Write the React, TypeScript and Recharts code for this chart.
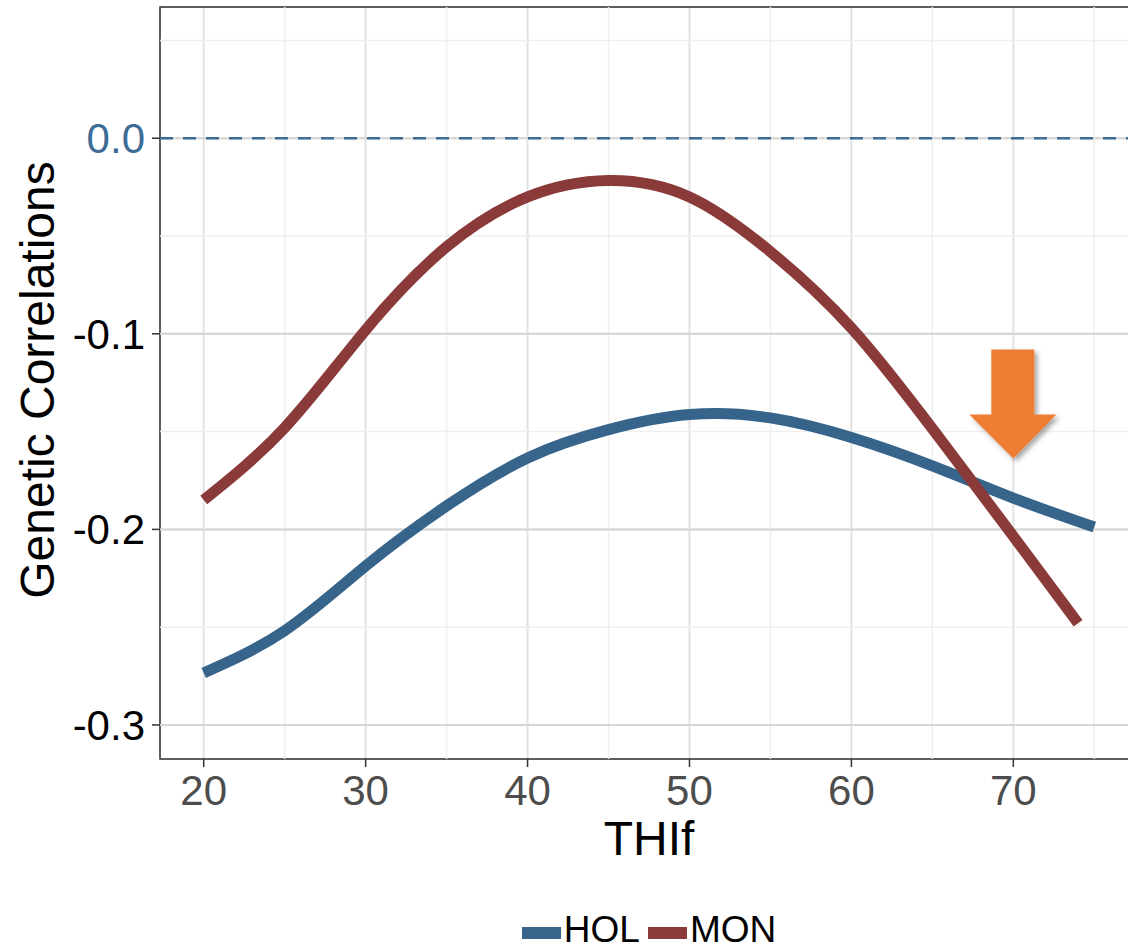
import React from 'react';
import {
  LineChart,
  Line,
  XAxis,
  YAxis,
  CartesianGrid,
  ReferenceLine,
  ReferenceArea,
  ReferenceDot,
  Legend,
  Label,
} from 'recharts';

// values
const holX = [20, 25, 30, 35, 40, 45, 50, 55, 60, 65, 70, 75];
const holY = [-0.2734, -0.2518, -0.2187, -0.188, -0.1635, -0.149, -0.1413, -0.143, -0.153, -0.1675, -0.184, -0.1988];

const monX = [20, 25, 30, 35, 40, 45, 50, 55, 60, 65, 70, 74];
const monY = [-0.185, -0.148, -0.098, -0.0555, -0.030, -0.0216, -0.030, -0.058, -0.097, -0.1485, -0.2035, -0.248];

const xTicks = [20, 30, 40, 50, 60, 70];
const yTicks = [0, -0.1, -0.2, -0.3];
const xMinor = [25, 35, 45, 55, 65, 75];
const yMinor = [0.05, -0.05, -0.15, -0.25];

const xDomain: [number, number] = [17.3, 77.7];
const yDomain: [number, number] = [-0.3174, 0.0671];

const arrowAt = { x: 70, y: -0.108 };

const HOL_COLOR = '#36648B';
const MON_COLOR = '#8B3A3A';
const ZERO_COLOR = '#3d6d96';

const holData = holX.map((x, i) => ({ x, HOL: holY[i] }));
const monData = monX.map((x, i) => ({ x, MON: monY[i] }));

const XTick = (props: any) => {
  const { x, y, payload } = props;
  return (
    <text x={x} y={y} dy="0.71em" textAnchor="middle" fontSize={42} fill="#4d4d4d">
      {payload.value}
    </text>
  );
};

const YTick = (props: any) => {
  const { x, y, payload } = props;
  const v = payload.value as number;
  return (
    <text
      x={x}
      y={y}
      dy="0.355em"
      textAnchor="end"
      fontSize={42}
      fill={v === 0 ? ZERO_COLOR : '#000'}
    >
      {v.toFixed(1)}
    </text>
  );
};

const Arrow = (props: any) => {
  const { cx, cy } = props;
  if (cx == null || cy == null) return null;
  const pts = [
    [cx - 22, cy],
    [cx + 21, cy],
    [cx + 21, cy + 65],
    [cx + 43, cy + 65],
    [cx, cy + 109],
    [cx - 44, cy + 65],
    [cx - 22, cy + 65],
  ]
    .map((p) => p.join(','))
    .join(' ');
  return (
    <g>
      <defs>
        <filter id="arrowShadow" x="-30%" y="-30%" width="160%" height="160%">
          <feDropShadow dx="3" dy="3" stdDeviation="2.5" floodColor="#000" floodOpacity="0.35" />
        </filter>
      </defs>
      <polygon points={pts} fill="#ED7D31" filter="url(#arrowShadow)" />
    </g>
  );
};

const LegendContent = () => (
  <div
    style={{
      height: 40,
      display: 'flex',
      justifyContent: 'center',
      alignItems: 'flex-start',
      paddingTop: 2,
      boxSizing: 'border-box',
      fontSize: 37,
      lineHeight: '37px',
      color: '#000',
    }}
  >
    {[
      { name: 'HOL', color: HOL_COLOR },
      { name: 'MON', color: MON_COLOR },
    ].map((it, i) => (
      <div key={it.name} style={{ display: 'flex', alignItems: 'flex-start', marginLeft: i ? 8 : 0 }}>
        <div style={{ width: 39, height: 12, marginTop: 16, background: it.color }} />
        <span style={{ marginLeft: 3 }}>{it.name}</span>
      </div>
    ))}
  </div>
);

export default function App() {
  return (
    <div
      style={{
        position: 'absolute',
        left: 0,
        top: 0,
        width: 1128,
        height: 949,
        overflow: 'hidden',
        background: '#fff',
        fontFamily: '"Liberation Sans", Arial, sans-serif',
      }}
    >
      <LineChart width={1150} height={949} margin={{ top: 7, right: 12, left: 0, bottom: 0 }}>
        <CartesianGrid stroke="#e2e2e2" strokeWidth={2} />
        {xMinor.map((v) => (
          <ReferenceLine key={'mx' + v} x={v} stroke="#efefef" strokeWidth={1.5} />
        ))}
        {yMinor.map((v) => (
          <ReferenceLine key={'my' + v} y={v} stroke="#efefef" strokeWidth={1.5} />
        ))}
        {yTicks.map((v) => (
          <ReferenceLine key={'gy' + v} y={v} stroke="#d6d6d6" strokeWidth={2} />
        ))}
        <XAxis
          type="number"
          dataKey="x"
          domain={xDomain}
          allowDataOverflow
          ticks={xTicks}
          height={150}
          axisLine={false}
          tickLine={{ stroke: '#333', strokeWidth: 1.5 }}
          tickSize={8}
          tickMargin={8}
          tick={<XTick />}
        >
          <Label
            content={(p: any) => {
              const vb = p.viewBox;
              return (
                <text x={vb.x + vb.width / 2} y={855} textAnchor="middle" fontSize={48} fill="#000">
                  THIf
                </text>
              );
            }}
          />
        </XAxis>
        <YAxis
          type="number"
          domain={yDomain}
          allowDataOverflow
          ticks={yTicks}
          width={160}
          axisLine={false}
          tickLine={{ stroke: '#333', strokeWidth: 1.5 }}
          tickSize={8}
          tickMargin={7}
          tick={<YTick />}
        >
          <Label
            content={(p: any) => {
              const vb = p.viewBox;
              const cy = vb.y + vb.height / 2;
              return (
                <text
                  transform={`translate(54, ${cy - 3}) rotate(-90)`}
                  textAnchor="middle"
                  fontSize={48}
                  fill="#000"
                >
                  Genetic Correlations
                </text>
              );
            }}
          />
        </YAxis>
        <ReferenceLine y={0} stroke={ZERO_COLOR} strokeWidth={2.5} strokeDasharray="13 10" />
        <Line
          data={holData}
          dataKey="HOL"
          name="HOL"
          type="natural"
          stroke={HOL_COLOR}
          strokeWidth={11}
          dot={false}
          activeDot={false}
          isAnimationActive={false}
        />
        <Line
          data={monData}
          dataKey="MON"
          name="MON"
          type="natural"
          stroke={MON_COLOR}
          strokeWidth={11}
          dot={false}
          activeDot={false}
          isAnimationActive={false}
        />
        <ReferenceDot x={arrowAt.x} y={arrowAt.y} r={0} shape={<Arrow />} />
        <ReferenceArea
          x1={xDomain[0]}
          x2={xDomain[1]}
          y1={yDomain[0]}
          y2={yDomain[1]}
          fill="none"
          fillOpacity={0}
          stroke="#333"
          strokeWidth={1.5}
        />
        <Legend
          verticalAlign="bottom"
          height={40}
          content={<LegendContent />}
          wrapperStyle={{ left: 160, width: 978 }}
        />
      </LineChart>
    </div>
  );
}
